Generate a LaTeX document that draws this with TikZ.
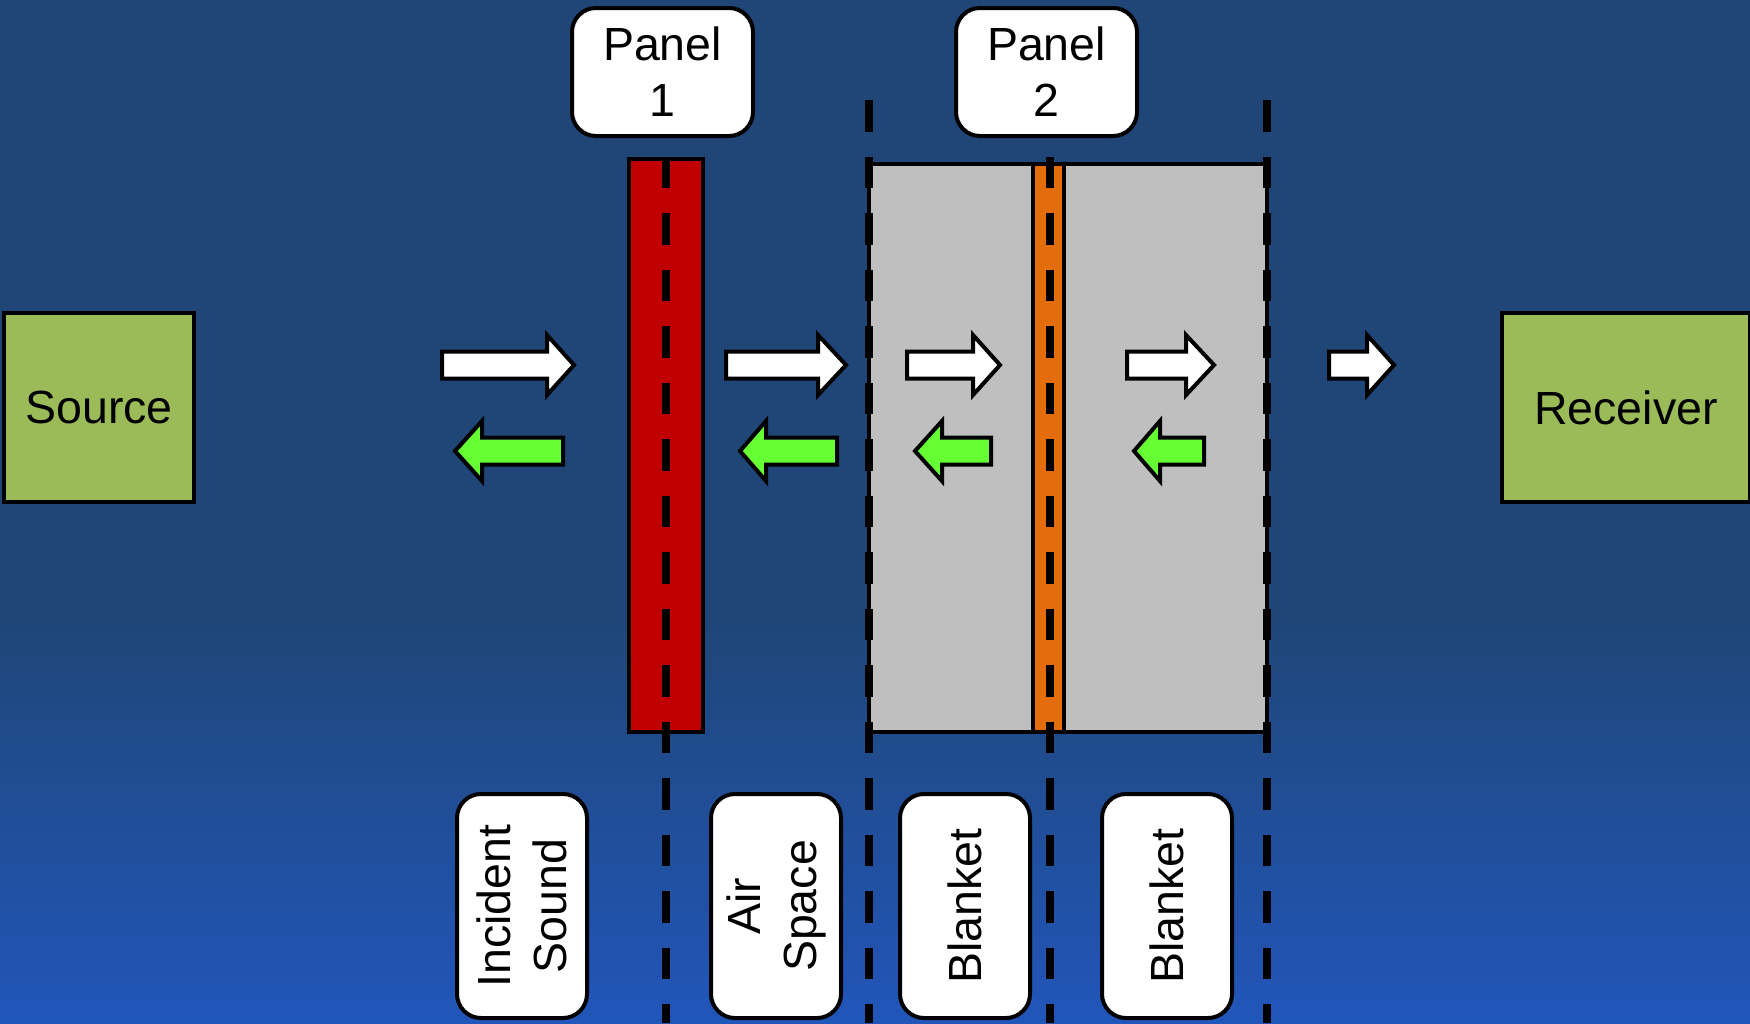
\documentclass[tikz,border=0pt]{standalone}
\usepackage{fontspec}
\setmainfont{Liberation Sans}
\newcommand{\diagfont}{\fontsize{46.5}{56}\selectfont}

\definecolor{bgtop}{HTML}{1F4677}
\definecolor{bgbot}{HTML}{2156BA}
\definecolor{srcgreen}{HTML}{9BBB59}
\definecolor{panelred}{HTML}{C00000}
\definecolor{coreorange}{HTML}{E46C0A}
\definecolor{blanketgrey}{HTML}{BFBFBF}
\definecolor{reflgreen}{HTML}{66FF33}

% block arrows: tail x, head base x, tip x, centre y
\newcommand{\fwdblock}[4]{%
  \draw[fwdarrow] (#1,#4-13.5) -- (#2,#4-13.5) -- (#2,#4-30) -- (#3,#4)
    -- (#2,#4+30) -- (#2,#4+13.5) -- (#1,#4+13.5) -- cycle;}
\newcommand{\backblock}[4]{%
  \draw[backarrow] (#1,#4-13.5) -- (#2,#4-13.5) -- (#2,#4-30) -- (#3,#4)
    -- (#2,#4+30) -- (#2,#4+13.5) -- (#1,#4+13.5) -- cycle;}

\begin{document}
\begin{tikzpicture}[x=1pt,y=-1pt,line join=miter,
  endbox/.style={draw=black,line width=4pt,fill=srcgreen,font=\diagfont,inner sep=0pt},
  tagbox/.style={draw=black,line width=4pt,fill=white,rounded corners=24pt,
    align=center,font=\diagfont,inner sep=0pt},
  fwdarrow/.style={draw=black,line width=4pt,fill=white},
  backarrow/.style={draw=black,line width=4pt,fill=reflgreen},
  layer/.style={draw=black,line width=4pt},
  plane/.style={draw=black,line width=7.5pt,dash pattern=on 31.5pt off 25pt},
]
% background
\useasboundingbox (0,0) rectangle (1750,1023);
\fill[bgtop] (0,0) rectangle (1750,621);
\shade[top color=bgtop,bottom color=bgbot] (0,620) rectangle (1750,1023);

% source and receiver
\node[endbox,minimum width=190pt,minimum height=189pt] (src) at (99,407.5) {Source};
\node[endbox,minimum width=248pt,minimum height=189pt] (rcv) at (1626,407.5) {Receiver};

% panel 1
\draw[layer,fill=panelred] (629,159) rectangle (703,732);
% panel 2 with blankets on both sides
\draw[layer,fill=blanketgrey] (869,164) rectangle (1267,732);
\draw[layer,fill=coreorange] (1033,164) rectangle (1064,732);

% reference planes
\draw[plane] (666,156.5) -- (666,1023);
\draw[plane] (869,100) -- (869,1023);
\draw[plane] (1050,156.5) -- (1050,1023);
\draw[plane] (1267,100) -- (1267,1023);

% transmitted waves
\fwdblock{442}{547}{574}{365}
\fwdblock{726}{818}{846}{365}
\fwdblock{907}{973}{1000}{365}
\fwdblock{1127}{1186}{1214}{365}
\fwdblock{1329}{1367}{1394}{365}
% reflected waves
\backblock{563}{482}{455}{451}
\backblock{837}{766}{740}{451}
\backblock{991}{942}{915}{451}
\backblock{1204}{1160}{1134}{451}

% panel labels
\node[tagbox,minimum width=181pt,minimum height=128pt] (p1) at (662.5,72) {Panel\\1};
\node[tagbox,minimum width=181pt,minimum height=128pt] (p2) at (1046.5,72) {Panel\\2};

% region labels
\node[tagbox,rotate=90,minimum width=224pt,minimum height=130pt] (inc) at (522,906) {Incident\\Sound};
\node[tagbox,rotate=90,minimum width=224pt,minimum height=130pt] (air) at (776,906) {Air\\Space};
\node[tagbox,rotate=90,minimum width=224pt,minimum height=130pt] (bl1) at (965,906) {Blanket};
\node[tagbox,rotate=90,minimum width=224pt,minimum height=130pt] (bl2) at (1167,906) {Blanket};
\end{tikzpicture}
\end{document}
